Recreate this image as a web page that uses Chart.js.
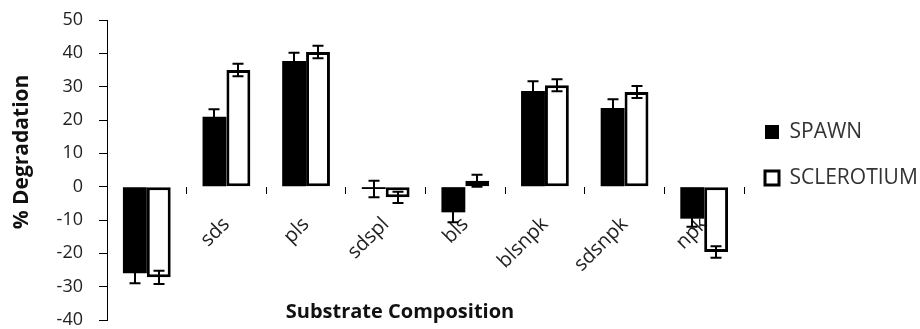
<!DOCTYPE html>
<html>
<head>
<meta charset="utf-8">
<title>% Degradation by substrate</title>
<script src="https://cdn.jsdelivr.net/npm/chart.js@4/dist/chart.umd.min.js"></script>
<style>
  html, body { margin: 0; padding: 0; background: #fff; }
  #wrap { width: 920px; height: 329px; }
</style>
</head>
<body>
<div id="wrap"><canvas id="degChart" width="920" height="329"></canvas></div>
<script>
// values
var categories = ['', 'sds', 'pls', 'sdspl', 'bls', 'blsnpk', 'sdsnpk', 'npk'];
var spawn = [-26, 21, 37.7, -0.7, -7.7, 28.7, 23.6, -9.6];
var spawnErr = [3, 2.2, 2.5, 2.5, 3, 2.9, 2.6, 2.4];
var sclerotium = [-27.2, 35, 40.4, -3.2, 1.8, 30.4, 28.4, -19.6];
var sclerotiumErr = [2, 1.9, 1.9, 1.7, 1.8, 1.8, 1.8, 1.7];
var yTicks = [50, 40, 30, 20, 10, 0, -10, -20, -30, -40];
var xTitle = 'Substrate Composition';
var yTitle = '% Degradation';

var FONT = 'Open Sans';

// error bars drawn on top of the bars
var errorBars = {
    id: 'errorBars',
    afterDatasetsDraw: function (chart) {
        var ctx = chart.ctx;
        var yScale = chart.scales.y;
        var errs = [spawnErr, sclerotiumErr];
        ctx.save();
        ctx.strokeStyle = '#000';
        ctx.lineWidth = 2;
        chart.data.datasets.forEach(function (ds, di) {
            var meta = chart.getDatasetMeta(di);
            meta.data.forEach(function (bar, i) {
                var v = ds.data[i], e = errs[di][i];
                var x = Math.round(bar.x);
                var yTop = yScale.getPixelForValue(v + e);
                var yBot = yScale.getPixelForValue(v - e);
                ctx.beginPath();
                ctx.moveTo(x, yTop); ctx.lineTo(x, yBot);
                ctx.moveTo(x - 5.5, yTop); ctx.lineTo(x + 5.5, yTop);
                ctx.moveTo(x - 5.5, yBot); ctx.lineTo(x + 5.5, yBot);
                ctx.stroke();
            });
        });
        ctx.restore();
    }
};

// axis titles (the x one sits left of centre, like the original)
var axisTitles = {
    id: 'axisTitles',
    afterDraw: function (chart) {
        var ctx = chart.ctx;
        ctx.save();
        ctx.fillStyle = '#111';
        ctx.textAlign = 'center';
        ctx.textBaseline = 'middle';
        ctx.font = 'bold 20px "' + FONT + '"';
        ctx.fillText(xTitle, 400, 312);
        ctx.font = 'bold 21px "' + FONT + '"';
        ctx.translate(22, 152);
        ctx.rotate(-Math.PI / 2);
        ctx.fillText(yTitle, 0, 0);
        ctx.restore();
    }
};

var ctx = document.getElementById('degChart').getContext('2d');
var degChart = new Chart(ctx, {
    type: 'bar',
    data: {
        labels: categories,
        datasets: [
            {
                label: 'SPAWN',
                data: spawn,
                backgroundColor: '#000',
                borderColor: '#000',
                borderWidth: 0,
                categoryPercentage: 0.6,
                barPercentage: 1.0
            },
            {
                label: 'SCLEROTIUM',
                data: sclerotium,
                backgroundColor: '#fff',
                borderColor: '#000',
                borderWidth: 3,
                borderSkipped: false,
                categoryPercentage: 0.6,
                barPercentage: 1.0
            }
        ]
    },
    options: {
        responsive: false,
        animation: false,
        layout: { padding: { top: 20, bottom: 9, left: 0, right: 0 } },
        plugins: {
            tooltip: { enabled: false },
            legend: {
                position: 'right',
                align: 'start',
                fullSize: false,
                maxWidth: 176,
                title: { display: true, text: ' ', font: { size: 10, lineHeight: 1 }, padding: { top: 70.5, bottom: 0 } },
                labels: {
                    boxWidth: 14,
                    boxHeight: 14,
                    padding: 21,
                    color: '#333',
                    font: { family: FONT, size: 21, lineHeight: 25 / 21 },
                    generateLabels: function (chart) {
                        return Chart.defaults.plugins.legend.labels.generateLabels(chart).map(function (item) {
                            item.text = [item.text];
                            return item;
                        });
                    }
                }
            }
        },
        scales: {
            x: {
                position: { y: 0 },
                offset: true,
                border: { display: false },
                grid: { drawOnChartArea: false, drawTicks: true, tickLength: 7, color: '#000', lineWidth: 1, offset: true },
                ticks: {
                    autoSkip: false,
                    minRotation: 45,
                    maxRotation: 45,
                    padding: 19,
                    color: '#222',
                    font: { family: FONT, size: 20 }
                },
                afterFit: function (scale) {
                    scale.height = 0;
                    scale.paddingLeft = 0;
                    scale.paddingRight = 0;
                }
            },
            y: {
                min: -40,
                max: 50,
                afterBuildTicks: function (scale) {
                    scale.ticks = yTicks.slice().reverse().map(function (v) { return { value: v }; });
                },
                border: { display: true, color: '#000', width: 1 },
                grid: { drawOnChartArea: false, drawTicks: true, tickLength: 8, color: '#000' },
                ticks: { padding: 16, color: '#222', font: { family: FONT, size: 18 } },
                afterFit: function (scale) {
                    scale.width = 107;
                    scale.paddingTop = 0;
                    scale.paddingBottom = 0;
                }
            }
        }
    },
    plugins: [errorBars, axisTitles]
});
</script>
</body>
</html>
